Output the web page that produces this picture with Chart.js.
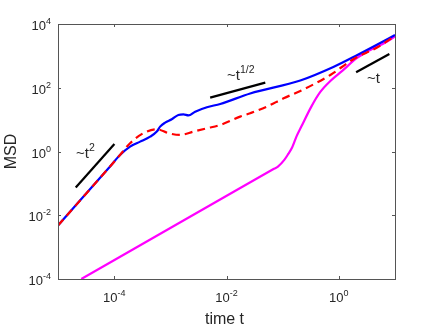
<!DOCTYPE html>
<html>
<head>
<meta charset="utf-8">
<script src="https://cdn.jsdelivr.net/npm/chart.js@4.4.1/dist/chart.umd.min.js"></script>
<style>
html, body { margin: 0; padding: 0; background: #fff; }
#wrap { width: 436px; height: 327px; }
</style>
</head>
<body>
<div id="wrap"><canvas id="graficoMSD" width="436" height="327"></canvas></div>
<script>
// Curva azul (contínua)
const tAzul = [1e-5, 8.45e-5, 1.27e-4, 1.92e-4, 2.90e-4, 4.37e-4, 5.74e-4, 6.58e-4, 8.07e-4, 1.06e-3, 1.39e-3, 1.71e-3, 2.10e-3, 2.77e-3, 4.48e-3, 7.73e-3, 2.64e-2, 0.206, 0.798, 2.14, 4.85, 10];
const msdAzul = [4.8e-3, 0.339, 0.78, 1.43, 2.04, 2.93, 4.21, 6.04, 8.05, 10.3, 14.0, 14.6, 13.6, 17.8, 24.5, 31.0, 66.2, 169, 449, 1067, 2275, 4519];

// Curva vermelha (tracejada)
const tVermelho = [1e-5, 8.45e-5, 1.27e-4, 1.92e-4, 3.31e-4, 5.74e-4, 9.25e-4, 1.50e-3, 2.58e-3, 4.48e-3, 7.73e-3, 1.75e-2, 2.64e-2, 5.25e-2, 0.104, 0.206, 0.706, 1.84, 4.80, 10];
const msdVermelho = [4.8e-3, 0.339, 0.78, 1.82, 3.75, 5.0, 3.75, 3.31, 4.21, 5.37, 6.82, 12.4, 15.9, 25.6, 46.9, 79.4, 251, 800, 1832, 4207];

// Curva magenta
const tMagenta = [2.6e-5, 1e-3, 7e-2, 8.24e-2, 0.107, 0.126, 0.148, 0.175, 0.215, 0.324, 0.468, 0.706, 1.15, 2.05, 3.64, 6.75, 10];
const msdMagenta = [1e-4, 4.0e-3, 0.286, 0.337, 0.546, 0.841, 1.35, 2.87, 6.04, 25.6, 73.8, 163, 337, 828, 1531, 2630, 4055];

// Retas de referência (pretas)
const tRefT2 = [2.07e-5, 1.01e-4];
const msdRefT2 = [7.38e-2, 1.73];
const tRefRaiz = [5.12e-3, 4.90e-2];
const msdRefRaiz = [49.0, 144.5];
const tRefT = [2.03, 7.94];
const msdRefT = [306, 1148];

// Rótulos das retas
const textoRotulos = ['~t', '~t', '~t'];
const expRotulos = ['2', '1/2', ''];
const tRotulos = [2.1e-5, 1.02e-2, 3.18];
const msdRotulos = [0.63, 175, 141];

// Ticks
const ticksX = [1e-4, 1e-2, 1];
const expTicksX = ['-4', '-2', '0'];
const ticksY = [1e-4, 1e-2, 1, 1e2, 1e4];
const expTicksY = ['-4', '-2', '0', '2', '4'];

const FONTE = "'Liberation Sans', Arial, Helvetica, sans-serif";
const COR_TEXTO = '#262626';
const COR_EIXO = '#555555';

function pontos(ts, vs) {
    return ts.map((t, i) => ({ x: t, y: vs[i] }));
}

function desenharPotencia(ctx, base, exp, x, y, alinhamento, tamBase, tamExp, subida) {
    ctx.font = tamBase + 'px ' + FONTE;
    const wb = ctx.measureText(base).width;
    ctx.font = tamExp + 'px ' + FONTE;
    const we = exp ? ctx.measureText(exp).width : 0;
    let x0 = x;
    if (alinhamento === 'center') x0 = x - (wb + we) / 2;
    else if (alinhamento === 'right') x0 = x - (wb + we);
    ctx.textAlign = 'left';
    ctx.textBaseline = 'alphabetic';
    ctx.font = tamBase + 'px ' + FONTE;
    ctx.fillText(base, x0, y);
    if (exp) {
        ctx.font = tamExp + 'px ' + FONTE;
        ctx.fillText(exp, x0 + wb, y - subida);
    }
}

// Plugin para a moldura, ticks, rótulos e títulos no estilo MATLAB
const molduraPlugin = {
    id: 'moldura',
    afterDraw(chart) {
        const { ctx, chartArea: a } = chart;
        const sx = chart.scales.x;
        const sy = chart.scales.y;
        ctx.save();

        // caixa
        ctx.strokeStyle = COR_EIXO;
        ctx.lineWidth = 1;
        ctx.strokeRect(Math.round(a.left) + 0.5, Math.round(a.top) + 0.5,
            Math.round(a.right - a.left), Math.round(a.bottom - a.top));

        // ticks para dentro, nos quatro lados
        const tam = 3;
        ctx.beginPath();
        ticksX.forEach(v => {
            const px = Math.round(sx.getPixelForValue(v)) + 0.5;
            ctx.moveTo(px, a.bottom); ctx.lineTo(px, a.bottom - tam);
            ctx.moveTo(px, a.top); ctx.lineTo(px, a.top + tam);
        });
        ticksY.forEach(v => {
            const py = Math.round(sy.getPixelForValue(v)) + 0.5;
            ctx.moveTo(a.left, py); ctx.lineTo(a.left + tam, py);
            ctx.moveTo(a.right, py); ctx.lineTo(a.right - tam, py);
        });
        ctx.stroke();

        // rótulos dos ticks
        ctx.fillStyle = COR_TEXTO;
        ticksX.forEach((v, i) => {
            const px = sx.getPixelForValue(v);
            desenharPotencia(ctx, '10', expTicksX[i], px, a.bottom + 23, 'center', 13, 9, 6);
        });
        ticksY.forEach((v, i) => {
            const py = sy.getPixelForValue(v);
            desenharPotencia(ctx, '10', expTicksY[i], a.left - 7, py + 6, 'right', 13, 9, 6);
        });

        // títulos dos eixos
        ctx.font = '16px ' + FONTE;
        ctx.textAlign = 'center';
        ctx.textBaseline = 'alphabetic';
        ctx.fillText('time t', (a.left + a.right) / 2 - 2, 324);
        ctx.save();
        ctx.translate(16, (a.top + a.bottom) / 2);
        ctx.rotate(-Math.PI / 2);
        ctx.fillText('MSD', 0, 0);
        ctx.restore();

        // rótulos das retas de referência
        textoRotulos.forEach((txt, i) => {
            const px = sx.getPixelForValue(tRotulos[i]);
            const py = sy.getPixelForValue(msdRotulos[i]);
            desenharPotencia(ctx, txt, expRotulos[i], px, py, 'left', 15, 10.5, 7);
        });

        ctx.restore();
    }
};

const estiloCurva = {
    pointRadius: 0,
    borderWidth: 2.2,
    fill: false,
    cubicInterpolationMode: 'monotone'
};

const estiloRef = {
    pointRadius: 0,
    borderWidth: 2.2,
    borderColor: '#000000',
    fill: false,
    tension: 0
};

const ctx = document.getElementById('graficoMSD').getContext('2d');
window.chartInstance = new Chart(ctx, {
    type: 'line',
    data: {
        datasets: [
            { ...estiloCurva, label: 'vermelho', data: pontos(tVermelho, msdVermelho), borderColor: '#ff0000', borderDash: [8, 5], order: 1 },
            { ...estiloCurva, label: 'azul', data: pontos(tAzul, msdAzul), borderColor: '#0000ff', order: 2 },
            { ...estiloCurva, label: 'magenta', data: pontos(tMagenta, msdMagenta), borderColor: '#ff00ff', order: 3 },
            { ...estiloRef, label: 't2', data: pontos(tRefT2, msdRefT2), order: 0 },
            { ...estiloRef, label: 'raiz', data: pontos(tRefRaiz, msdRefRaiz), order: 0 },
            { ...estiloRef, label: 't', data: pontos(tRefT, msdRefT), order: 0 }
        ]
    },
    options: {
        responsive: false,
        animation: false,
        devicePixelRatio: 1,
        layout: { padding: { left: 0, right: 41, top: 24, bottom: 0 } },
        plugins: {
            legend: { display: false },
            tooltip: { enabled: false }
        },
        scales: {
            x: {
                type: 'logarithmic',
                min: 1e-5,
                max: 10,
                grid: { display: false },
                border: { display: false },
                ticks: { display: false },
                afterFit: s => { s.height = 48; }
            },
            y: {
                type: 'logarithmic',
                min: 1e-4,
                max: 1e4,
                grid: { display: false },
                border: { display: false },
                ticks: { display: false },
                afterFit: s => { s.width = 58; }
            }
        }
    },
    plugins: [molduraPlugin]
});
</script>
</body>
</html>
